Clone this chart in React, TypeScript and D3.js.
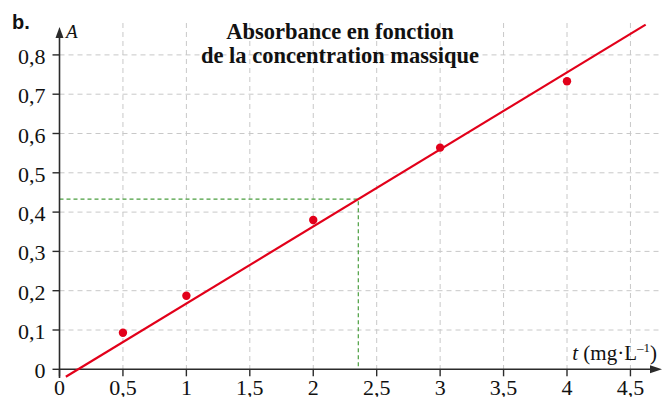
import React from "react";
import * as d3 from "d3";

const xTicks = [0, 0.5, 1, 1.5, 2, 2.5, 3, 3.5, 4, 4.5];
const yTicks = [0, 0.1, 0.2, 0.3, 0.4, 0.5, 0.6, 0.7, 0.8];
const concentrations = [0.5, 1, 2, 3, 4];
const absorbances = [0.093, 0.187, 0.38, 0.564, 0.733];
const fitSlope = [0.196];
const fitIntercept = [-0.0286];
const fitRange = [0.05, 4.62];
const readA = [0.433];
const titleLines = ["Absorbance en fonction", "de la concentration massique"];

const fmt = (v: number) => String(v).replace(".", ",");

export default function App() {
  const W = 670, H = 397;
  const x = d3.scaleLinear().domain([0, 4]).range([59.5, 567]);
  const y = d3.scaleLinear().domain([0, 0.8]).range([369.3, 54.9]);
  const red = "#e2001a";
  const axisColor = "#2b2b2b";
  const gridColor = "#c8c8c8";
  const green = "#4a9e3f";
  const serif = "Liberation Serif";
  const f = (t: number) => fitSlope[0] * t + fitIntercept[0];
  const tRead = (readA[0] - fitIntercept[0]) / fitSlope[0];
  const x0 = x(0), y0 = y(0);
  const gridTop = 23;
  const xEnd = 662;

  const line = d3.line<number>().x((t) => x(t)).y((t) => y(f(t)));

  return (
    <svg width={W} height={H} style={{ position: "absolute", left: 0, top: 0 }}>
      <rect width={W} height={H} fill="#fff" />
      {xTicks.filter((t) => t > 0).map((t) => (
        <line key={"gx" + t} x1={x(t)} x2={x(t)} y1={gridTop} y2={y0} stroke={gridColor} strokeWidth={1} strokeDasharray="5,4" />
      ))}
      {yTicks.filter((v) => v > 0).map((v) => (
        <line key={"gy" + v} x1={x0} x2={xEnd} y1={y(v)} y2={y(v)} stroke={gridColor} strokeWidth={1} strokeDasharray="5,4" />
      ))}
      {titleLines.map((s, i) => (
        <text key={s} x={340} y={39 + i * 24} textAnchor="middle" style={{ fontFamily: serif }} fontWeight="bold" fontSize={22.5} fill="#111">
          {s}
        </text>
      ))}
      <path d={`M${x0},${y(readA[0])}H${x(tRead)}V${y0}`} fill="none" stroke={green} strokeWidth={1.2} strokeDasharray="4,3" />
      <line x1={x0} x2={x0} y1={378} y2={34} stroke={axisColor} strokeWidth={1.6} />
      <path d={`M${x0},27 L${x0 - 4},38 L${x0 + 4},38 Z`} fill={axisColor} />
      <line x1={x0} x2={652} y1={y0} y2={y0} stroke={axisColor} strokeWidth={1.6} />
      <path d={`M${xEnd},${y0} L${650},${y0 - 4} L${650},${y0 + 4} Z`} fill={axisColor} />
      {yTicks.map((v) => (
        <g key={"ty" + v}>
          <line x1={x0 - 7} x2={x0} y1={y(v)} y2={y(v)} stroke={axisColor} strokeWidth={1.4} />
          <text x={45.5} y={y(v) + 9} textAnchor="end" style={{ fontFamily: serif }} fontSize={22} fill="#111">{fmt(v)}</text>
        </g>
      ))}
      {xTicks.map((t) => (
        <g key={"tx" + t}>
          <line x1={x(t)} x2={x(t)} y1={y0} y2={y0 + 7} stroke={axisColor} strokeWidth={1.4} />
          <text x={x(t)} y={395} textAnchor="middle" style={{ fontFamily: serif }} fontSize={22} fill="#111">{fmt(t)}</text>
        </g>
      ))}
      <text x={66} y={38} style={{ fontFamily: serif }} fontStyle="italic" fontSize={19} fill="#111">A</text>
      <text x={657} y={360} textAnchor="end" style={{ fontFamily: serif }} fontSize={21} fill="#111">
        <tspan fontStyle="italic">t</tspan>
        <tspan> (mg·L</tspan>
        <tspan fontSize={13} dy={-8}>–1</tspan>
        <tspan dy={8}>)</tspan>
      </text>
      <text x={12} y={29} style={{ fontFamily: "Liberation Sans" }} fontWeight="bold" fontSize={20} fill="#111">b.</text>
      <path d={line(fitRange) || ""} fill="none" stroke={red} strokeWidth={2.2} />
      {concentrations.map((t, i) => (
        <circle key={"p" + t} cx={x(t)} cy={y(absorbances[i])} r={4.2} fill={red} />
      ))}
    </svg>
  );
}
